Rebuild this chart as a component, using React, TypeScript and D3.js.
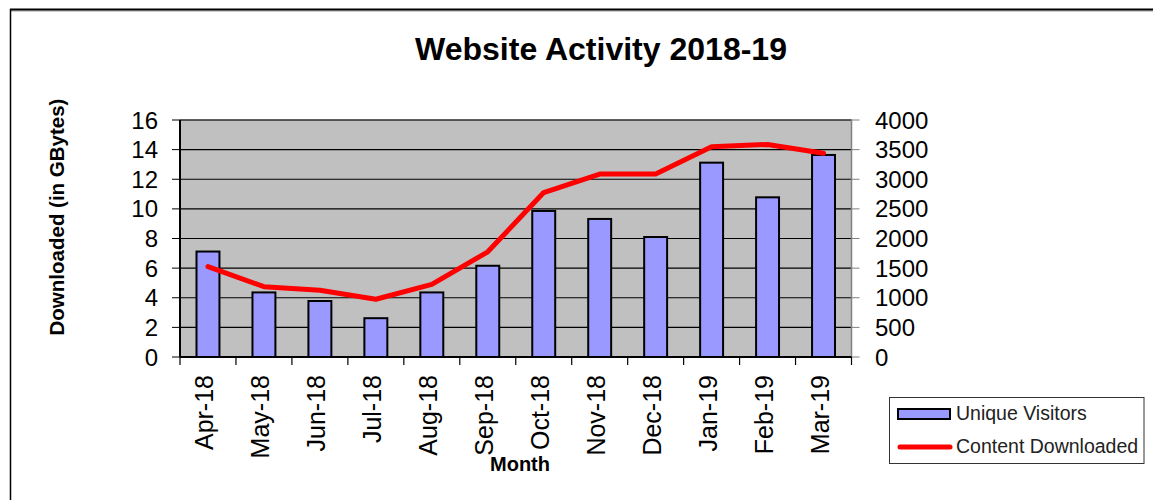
import * as d3 from "d3";

const months = ["Apr-18", "May-18", "Jun-18", "Jul-18", "Aug-18", "Sep-18", "Oct-18", "Nov-18", "Dec-18", "Jan-19", "Feb-19", "Mar-19"];
const uniqueVisitors = [1780, 1090, 945, 655, 1090, 1540, 2465, 2330, 2025, 3280, 2695, 3410];
const contentDownloaded = [6.1, 4.75, 4.5, 3.9, 4.9, 7.1, 11.1, 12.35, 12.35, 14.2, 14.35, 13.75];
const leftTicks = [0, 2, 4, 6, 8, 10, 12, 14, 16];
const rightTicks = [0, 500, 1000, 1500, 2000, 2500, 3000, 3500, 4000];

const font = "'Liberation Sans', Arial, sans-serif";

export default function App() {
    const width = 1153;
    const height = 500;
    const plot = { left: 180, right: 851.5, top: 120, bottom: 357 };

    const xScale = d3
        .scaleBand()
        .domain(months)
        .range([plot.left, plot.right])
        .padding(0);

    const yLeft = d3.scaleLinear().domain([0, 16]).range([plot.bottom, plot.top]);
    const yRight = d3.scaleLinear().domain([0, 4000]).range([plot.bottom, plot.top]);

    const bw = xScale.bandwidth();
    const barWidth = bw * 0.41;
    const cx = (m: string) => (xScale(m) ?? 0) + bw / 2;

    const line = d3
        .line<number>()
        .x((_, i) => cx(months[i]))
        .y((d) => yLeft(d));

    return (
        <svg
            width={width}
            height={height}
            style={{ position: "absolute", left: 0, top: 0, display: "block", background: "#fff" }}
            fontFamily={font}
        >
            {/* outer frame */}
            <line x1={10} x2={width} y1={11} y2={11} stroke="#999" strokeWidth={1} />
            <line x1={10} x2={width} y1={9.5} y2={9.5} stroke="#000" strokeWidth={2} />
            <line x1={10.5} x2={10.5} y1={9} y2={height} stroke="#000" strokeWidth={1.5} />

            <text x={601} y={60} textAnchor="middle" fontSize={31} fontWeight="bold" fill="#000" textLength={372} lengthAdjust="spacingAndGlyphs">
                Website Activity 2018-19
            </text>

            {/* plot area */}
            <rect
                x={plot.left}
                y={plot.top}
                width={plot.right - plot.left}
                height={plot.bottom - plot.top}
                fill="#c0c0c0"
                stroke="#808080"
                strokeWidth={1}
            />

            {leftTicks.map((t) => (
                <g key={t}>
                    {t > 0 && (
                        <line x1={plot.left} x2={plot.right} y1={yLeft(t)} y2={yLeft(t)} stroke="#000" strokeWidth={1.2} />
                    )}
                    <line x1={plot.left - 8} x2={plot.left} y1={yLeft(t)} y2={yLeft(t)} stroke="#000" strokeWidth={1} />
                    <text x={158} y={yLeft(t)} textAnchor="end" dominantBaseline="central" fontSize={24} fill="#000">
                        {t}
                    </text>
                </g>
            ))}

            {rightTicks.map((t) => (
                <g key={t}>
                    <line x1={plot.right} x2={plot.right + 8} y1={yRight(t)} y2={yRight(t)} stroke="#808080" strokeWidth={1} />
                    <text x={875} y={yRight(t)} textAnchor="start" dominantBaseline="central" fontSize={24} fill="#000">
                        {t}
                    </text>
                </g>
            ))}
            <line x1={plot.right} x2={plot.right} y1={plot.top} y2={plot.bottom} stroke="#808080" strokeWidth={1.5} />

            {months.map((m, i) => {
                const x = cx(m) - barWidth / 2;
                const y = yRight(uniqueVisitors[i]);
                return (
                    <rect
                        key={m}
                        x={x}
                        y={y}
                        width={barWidth}
                        height={plot.bottom - y}
                        fill="#9999ff"
                        stroke="#000"
                        strokeWidth={2}
                    />
                );
            })}

            <path
                d={line(contentDownloaded) ?? ""}
                fill="none"
                stroke="#ff0000"
                strokeWidth={5}
                strokeLinejoin="round"
                strokeLinecap="round"
            />

            {/* axes */}
            <line x1={plot.left} x2={plot.left} y1={plot.top} y2={plot.bottom} stroke="#000" strokeWidth={2} />
            <line x1={plot.left} x2={plot.right} y1={plot.bottom} y2={plot.bottom} stroke="#000" strokeWidth={2} />
            {[...months.map((m) => xScale(m) ?? 0), plot.right].map((x, i) => (
                <line key={i} x1={x} x2={x} y1={plot.bottom} y2={plot.bottom + 8} stroke="#000" strokeWidth={1.2} />
            ))}

            {months.map((m) => (
                <text
                    key={m}
                    transform={`translate(${cx(m) + 5}, 375) rotate(-90)`}
                    textAnchor="end"
                    fontSize={25}
                    fill="#000"
                >
                    {m}
                </text>
            ))}

            <text x={520} y={471} textAnchor="middle" fontSize={20} fontWeight="bold" fill="#000">
                Month
            </text>
            <text
                transform="translate(64, 217) rotate(-90)"
                textAnchor="middle"
                fontSize={20.5}
                fontWeight="bold"
                fill="#000"
            >
                Downloaded (in GBytes)
            </text>

            {/* legend */}
            <rect x={889.5} y={397.5} width={254.5} height={66} fill="#fff" stroke="#333" strokeWidth={1} />
            <rect x={898} y={409} width={52} height={10} fill="#9999ff" stroke="#000" strokeWidth={2} />
            <text x={956} y={420} fontSize={19.5} fill="#222">
                Unique Visitors
            </text>
            <line x1={900} x2={950} y1={447} y2={447} stroke="#ff0000" strokeWidth={5} strokeLinecap="round" />
            <text x={956} y={453} fontSize={19.5} fill="#222">
                Content Downloaded
            </text>
        </svg>
    );
}
